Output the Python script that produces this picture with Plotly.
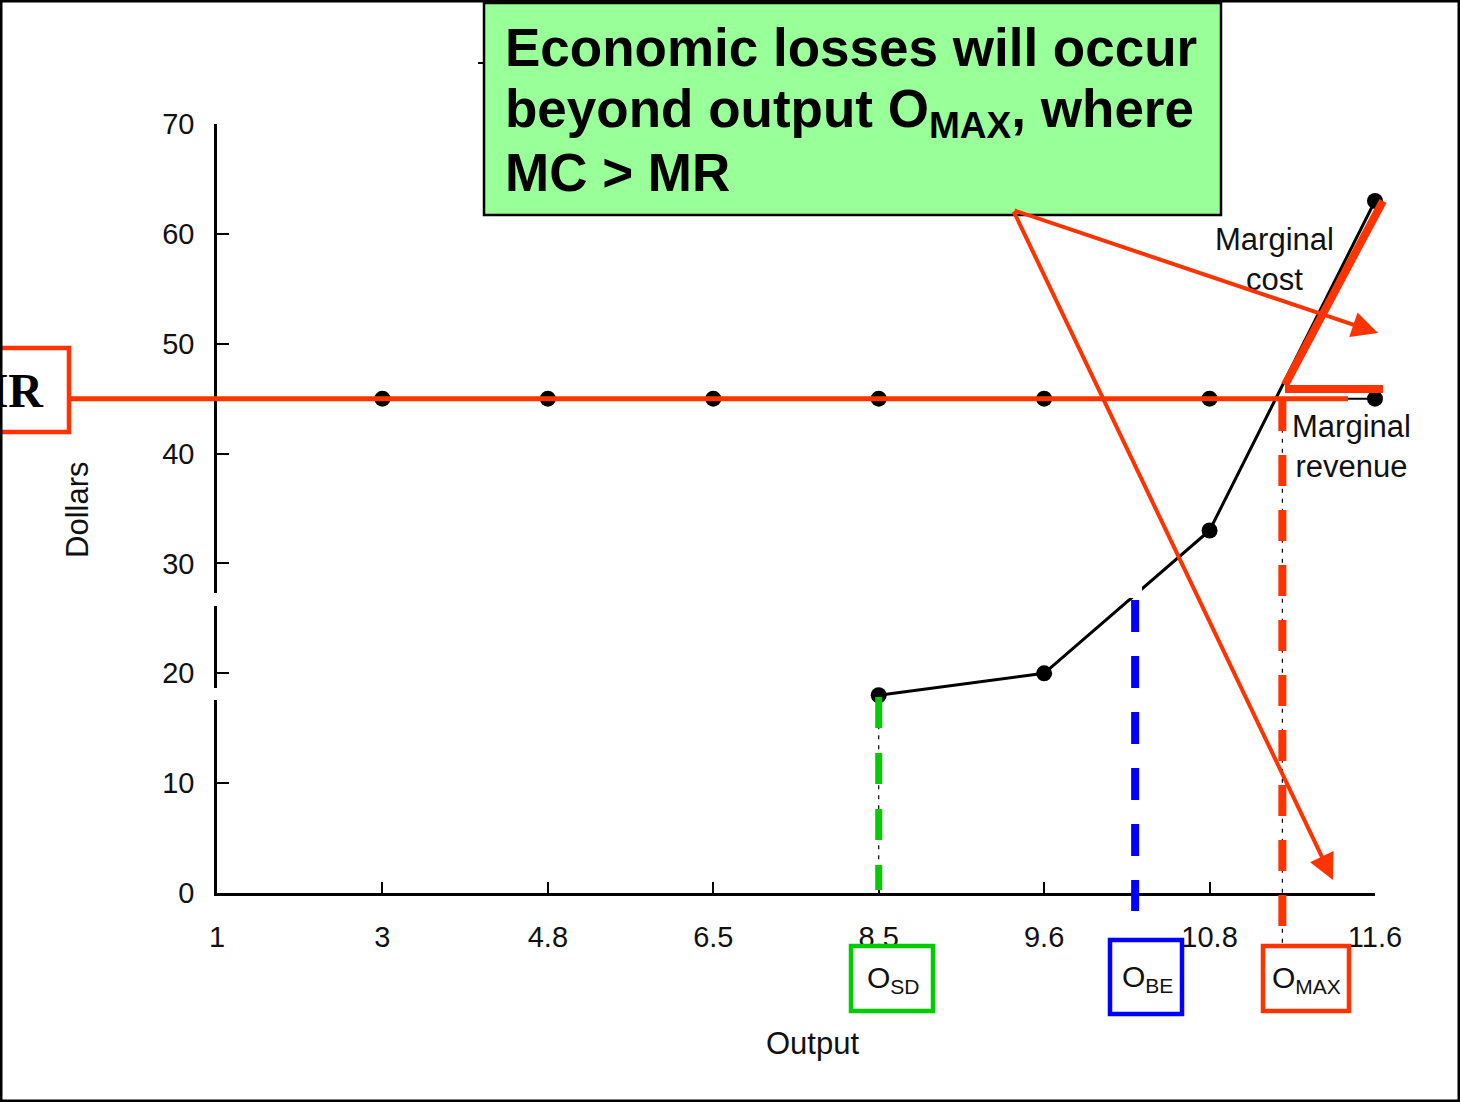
import plotly.graph_objects as go

# ---- data -------------------------------------------------------------
output_labels = ["1", "3", "4.8", "6.5", "8.5", "9.6", "10.8", "11.6"]
output_pos = list(range(len(output_labels)))
dollar_ticks = [0, 10, 20, 30, 40, 50, 60, 70]

# marginal revenue (flat price) and marginal cost, per output level
mr_values = [None, 45, 45, 45, 45, 45, 45, 45]
mc_values = [None, None, None, None, 18, 20, 33, 63]

# key output levels, in axis position units
o_sd = 4.0    # shutdown
o_be = 5.55   # break-even
o_max = 6.44  # MC = MR

# ---- page geometry ----------------------------------------------------
W, H = 1460, 1102
ML, MR_, MT, MB = 217, 85, 124, 209
PW, PH = W - ML - MR_, H - MT - MB
XMAX, YMAX = 7, 70

RED = "#FF3300"
GREEN = "#00CC00"
BLUE = "#0000FF"
FONT = "Liberation Sans, Arial, sans-serif"


def px(x):
    """page pixel x -> paper x"""
    return (x - ML) / PW


def py(y):
    """page pixel y -> paper y"""
    return (H - MB - y) / PH


def dx(v):
    """axis position -> paper x"""
    return v / XMAX


def dy(v):
    """dollar value -> paper y"""
    return v / YMAX


fig = go.Figure()

# marginal revenue curve
fig.add_trace(go.Scatter(
    x=output_pos, y=mr_values, mode="lines+markers",
    line=dict(color="black", width=2),
    marker=dict(color="black", size=16),
    cliponaxis=False, showlegend=False, hoverinfo="skip",
))
# marginal cost curve
fig.add_trace(go.Scatter(
    x=output_pos, y=mc_values, mode="lines+markers",
    line=dict(color="black", width=3),
    marker=dict(color="black", size=16),
    cliponaxis=False, showlegend=False, hoverinfo="skip",
))

shapes = []


def seg(x0, y0, x1, y1, color, width, dash="solid", layer="above"):
    shapes.append(dict(type="line", xref="paper", yref="paper",
                       x0=x0, y0=y0, x1=x1, y1=y1, layer=layer,
                       line=dict(color=color, width=width, dash=dash)))


def box(x0, y0, x1, y1, color, width, fill="rgba(0,0,0,0)"):
    shapes.append(dict(type="rect", xref="paper", yref="paper",
                       x0=x0, y0=y0, x1=x1, y1=y1, fillcolor=fill,
                       line=dict(color=color, width=width), layer="above"))


# thin black drop lines from the curves
seg(dx(o_sd), dy(mc_values[4]), dx(o_sd), 0, "black", 1.2, "4px,6px")
seg(dx(o_max), dy(45), dx(o_max), py(945), "black", 1.2, "4px,6px")

# white gaps in the axis and the MC line
box(px(211), py(606), px(223), py(593), "white", 0, "white")
box(px(211), py(700), px(223), py(688), "white", 0, "white")
box(px(1127), py(598), px(1142), py(586), "white", 0, "white")

# coloured dashed markers for the three output levels
seg(dx(o_sd), py(697), dx(o_sd), py(890), GREEN, 7, "31px,25px")
seg(dx(o_be), py(600), dx(o_be), py(911), BLUE, 8, "32px,24px")
seg(dx(o_max), py(400), dx(o_max), py(934), RED, 8, "31px,24px")

# red MR highlight
seg(px(70), dy(45), px(1348), dy(45), RED, 5)
seg(px(1285), py(389), px(1383), py(389), RED, 8)
seg(px(1285), py(385), px(1383), py(201), RED, 8)

# label boxes under the axis
box(px(851), py(1011), px(933), py(946), GREEN, 4.5)
box(px(1110), py(1014), px(1182), py(940), BLUE, 4.5)
box(px(1263), py(1011), px(1349), py(946), RED, 4.5)

# MR box on the left edge
box(px(-20), py(432), px(69), py(348), RED, 4.5)

# callout box
box(px(484), py(215), px(1221), py(3), "black", 2.5, "#99FF99")
seg(px(478), py(63), px(484), py(63), "black", 2)

# page frame
box(px(1), py(1101), px(1459), py(1), "black", 3)

annotations = []


def text(x, y, t, size, xanchor="center", yanchor="middle", family=FONT,
         color="#111111", angle=0, align="center"):
    annotations.append(dict(xref="paper", yref="paper", x=x, y=y, text=t,
                            showarrow=False, xanchor=xanchor, yanchor=yanchor,
                            textangle=angle, align=align, borderpad=0,
                            font=dict(family=family, size=size, color=color)))


# axis titles
text(px(77), py(510), "Dollars", 31, angle=-90)
text(px(812), py(1043), "Output", 31)

# curve labels
text(px(1274), py(259), "Marginal<br>cost", 31)
text(px(1351), py(446), "Marginal<br>revenue", 31)

# output level labels
text(px(893), py(979), "O<sub>SD</sub>", 30)
text(px(1147), py(978), "O<sub>BE</sub>", 30)
text(px(1306), py(979), "O<sub>MAX</sub>", 30)

# MR label (cut by the left edge)
text(px(45), py(390), "<b>MR</b>", 48, xanchor="right",
     family="Liberation Serif, Times New Roman, serif", color="black")

# callout text
text(px(504), py(47), "<b>Economic losses will occur</b>", 53,
     xanchor="left", color="black")
text(px(504), py(112), "<b>beyond output O<sub>MAX</sub>, where</b>", 53,
     xanchor="left", color="black")
text(px(504), py(172), "<b>MC &gt; MR</b>", 53, xanchor="left", color="black")

# callout arrows
for hx, hy in [(1378, 333), (1333, 880)]:
    annotations.append(dict(
        xref="paper", yref="paper", x=px(hx), y=py(hy), text="",
        showarrow=True, arrowhead=2, arrowsize=1.3, arrowwidth=4,
        arrowcolor=RED, ax=1013 - hx, ay=210 - hy, standoff=0,
        startstandoff=0,
    ))

fig.update_layout(
    width=W, height=H,
    margin=dict(l=ML, r=MR_, t=MT, b=MB, pad=0),
    paper_bgcolor="white", plot_bgcolor="white",
    showlegend=False,
    font=dict(family=FONT, color="#111111"),
    shapes=shapes, annotations=annotations,
    xaxis=dict(
        range=[0, XMAX], tickmode="array", tickvals=output_pos,
        ticktext=output_labels, ticks="inside", ticklen=11, tickwidth=1.5,
        tickcolor="black", showline=True, linecolor="black", linewidth=2.5,
        showgrid=False, zeroline=False, tickfont=dict(size=29, color="#111111"),
        ticklabelstandoff=16, fixedrange=True,
    ),
    yaxis=dict(
        range=[0, YMAX], tickmode="array", tickvals=dollar_ticks,
        ticks="inside", ticklen=12, tickwidth=1.5, tickcolor="black",
        showline=True, linecolor="black", linewidth=2.5, showgrid=False,
        zeroline=False, tickfont=dict(size=29, color="#111111"),
        ticklabelstandoff=14, fixedrange=True,
    ),
)

fig.write_html("out.html")
